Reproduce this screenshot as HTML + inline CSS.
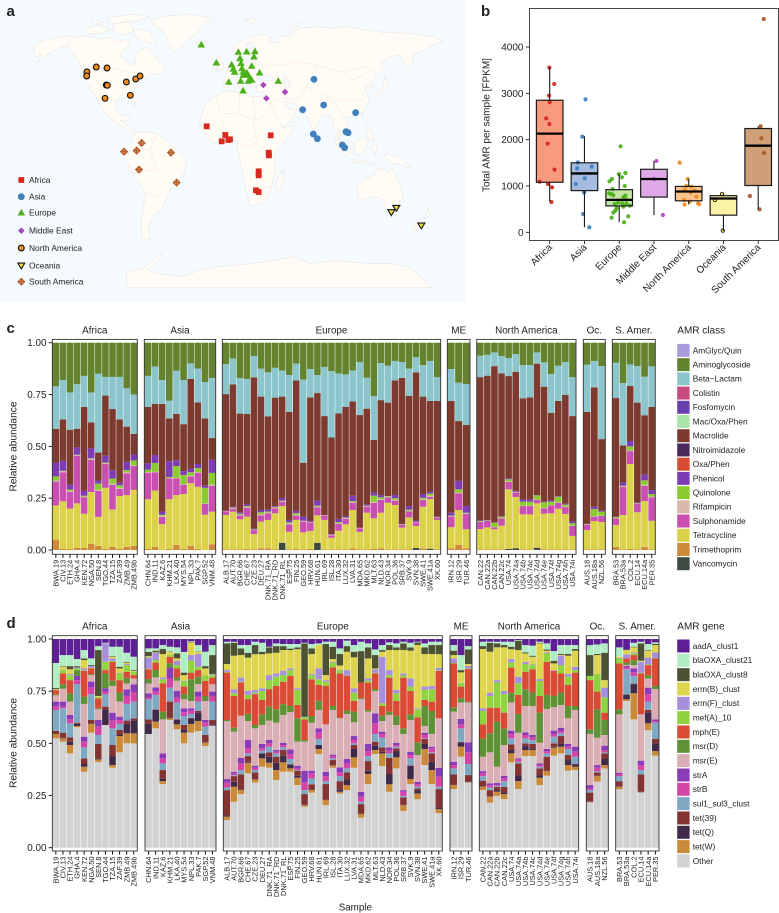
<!DOCTYPE html>
<html lang="en">
<head>
<meta charset="utf-8">
<title>Global AMR abundance figure</title>
<style>
html,body{margin:0;padding:0;background:#fff;width:779px;height:913px;overflow:hidden}
svg{display:block;font-family:"Liberation Sans",sans-serif}
text{fill:#222}
.land{fill:#fffcf5;stroke:#e2dfda;stroke-width:1.4}
.lake{fill:#f5fafe;stroke:#e2dfda;stroke-width:1.2}
.border{fill:none;stroke:#e6e3de;stroke-width:1.3}
</style>
</head>
<body>
<svg id="fig" xmlns="http://www.w3.org/2000/svg" width="779" height="913" viewBox="0 0 779 913">
<rect x="0" y="0" width="465" height="302.5" fill="#f5fafe"/>
<g transform="scale(0.33333)">
<path class="land" d="M100,145 L125,122 L160,115 L195,108 L230,112 L262,108 L300,118 L330,112 L352,128 L372,118 L395,130 L370,150 L360,165 L372,180 L398,195 L408,190 L402,168 L425,150 L440,140 L465,165 L478,185 L498,208 L478,222 L450,222 L432,238 L420,243 L408,260 L395,280 L408,322 L400,318 L388,290 L360,293 L345,305 L348,330 L368,350 L385,342 L392,345 L382,362 L362,362 L385,378 L398,390 L418,398 L405,402 L385,392 L350,370 L322,345 L300,315 L285,285 L268,262 L252,230 L240,190 L222,165 L205,142 L185,138 L150,160 L110,188 L125,165 L105,170 Z"/>
<path class="land" d="M255,85 L300,75 L330,90 L300,100 L260,100Z M340,75 L390,60 L400,95 L365,105 L340,95Z M400,85 L450,95 L470,130 L430,125 L405,110Z M320,55 L400,42 L450,50 L400,65 L340,70Z M275,60 L310,65 L285,75Z M730,60 L770,55 L760,72Z M870,80 L900,62 L895,75 L875,90Z"/>
<path class="land" d="M450,60 L500,48 L570,42 L640,55 L610,75 L590,100 L560,125 L525,158 L505,130 L495,100 L470,80Z"/>
<path class="land" d="M590,128 L605,122 L625,130 L612,143 L595,140Z M658,165 L668,190 L672,208 L650,212 L660,195 L650,178Z M640,188 L652,190 L650,205 L636,205Z"/>
<path class="land" d="M672,270 L672,240 L682,222 L680,210 L698,205 L702,190 L715,183 L712,172 L722,172 L722,185 L750,180 L768,165 L745,160 L748,145 L770,140 L745,125 L735,150 L730,170 L712,165 L695,150 L705,135 L745,112 L790,102 L815,112 L800,125 L835,128 L835,110 L870,105 L900,85 L950,80 L1000,85 L1040,78 L1090,90 L1160,98 L1230,100 L1300,110 L1330,125 L1295,135 L1265,155 L1245,160 L1235,190 L1220,205 L1200,165 L1175,170 L1140,190 L1155,205 L1130,225 L1110,250 L1125,265 L1100,255 L1095,270 L1110,300 L1090,335 L1055,350 L1035,355 L1045,385 L1040,405 L1022,405 L1015,385 L1020,425 L1042,455 L1025,440 L1003,380 L990,345 L965,345 L940,395 L925,355 L905,335 L880,310 L855,305 L860,325 L890,330 L875,360 L835,392 L810,315 L800,295 L790,275 L770,275 L770,255 L790,240 L775,232 L760,258 L742,258 L722,225 L708,222 L735,270 L715,262 L700,232 L692,234 L690,250 L680,272 Z"/>
<path class="lake" d="M775,232 L790,220 L815,228 L825,240 L795,243 Z"/>
<path class="lake" d="M852,225 L865,235 L870,265 L855,260Z"/>
<path class="land" d="M640,290 L672,276 L720,275 L750,288 L790,290 L805,300 L830,350 L850,385 L885,375 L870,405 L835,445 L822,470 L826,510 L812,570 L790,608 L750,618 L738,570 L722,495 L712,440 L712,422 L670,420 L640,428 L610,400 L598,365 L618,310 Z M848,510 L852,535 L838,578 L828,568 L832,535Z"/>
<path class="land" d="M410,398 L435,395 L470,400 L500,420 L525,445 L560,478 L552,520 L520,555 L505,580 L490,620 L462,645 L445,685 L450,720 L425,712 L425,650 L437,580 L400,520 L375,475 L392,450 L392,420 Z"/>
<path class="land" d="M1155,225 L1165,255 L1150,275 L1125,292 L1128,280 L1150,262 Z M1000,410 L1025,430 L1050,462 L1040,468 L1010,435Z M1060,430 L1090,410 L1105,425 L1090,465 L1065,460Z M1055,478 L1120,488 L1120,494 L1055,486Z M1115,440 L1135,430 L1125,465Z M1150,462 L1195,470 L1235,505 L1200,495 L1170,490Z M1100,370 L1112,390 L1125,425 L1105,415 L1098,390Z M950,405 L958,420 L950,425Z M1088,335 L1092,350 L1083,350Z"/>
<path class="land" d="M1068,560 L1095,535 L1125,525 L1130,505 L1160,510 L1165,520 L1178,505 L1205,565 L1208,590 L1190,625 L1165,632 L1150,600 L1125,590 L1078,602 Z M1168,640 L1185,642 L1178,655Z"/>
<path class="land" d="M1285,625 L1290,645 L1270,660Z M1260,660 L1270,665 L1245,695 L1235,690Z"/>
<path class="land" d="M380,815 L430,805 L465,775 L490,755 L470,785 L440,812 L480,822 L545,830 L600,810 L650,800 L720,795 L800,785 L880,770 L930,790 L1010,782 L1100,790 L1170,790 L1225,800 L1260,830 L1295,862 L380,862Z"/>
<path class="border" d="M205,110 L205,142 M248,205 L345,205 L370,215 L410,218 L432,232 M272,262 L310,270 L345,305 M470,400 L450,450 L410,445 M450,450 L470,510 L500,540 M400,520 L450,510 L470,510 M437,580 L480,590 M650,290 L660,340 L640,380 M720,275 L715,340 L760,360 L810,340 M760,290 L765,360 M670,340 L715,340 M660,420 L670,360 M712,440 L770,430 L820,470 M770,430 L760,360 M738,520 L800,510 M745,570 L812,560 M770,225 L800,195 L850,195 L880,185 L950,195 L1020,215 L1100,200 L1130,225 M950,195 L920,260 L905,290 L880,310 M850,240 L860,300 L905,290 M920,260 L1000,300 L1035,355 M1000,300 L1090,300 M1020,215 L1060,240 L1110,215 M740,180 L745,230 M700,205 L745,205 M720,185 L760,190 L790,200 M760,190 L770,225 M820,300 L870,290"/>
</g>
<g id="mapPoints"></g>
<g id="mapLegend"></g>
<g id="boxPanel"></g>
<g id="classPanel"></g>
<g id="genePanel"></g>
<text x="6.5" y="16" font-size="15" font-weight="bold" fill="#000">a</text>
<text x="481" y="16" font-size="15" font-weight="bold" fill="#000">b</text>
<text x="6.5" y="333" font-size="15" font-weight="bold" fill="#000">c</text>
<text x="6.5" y="628" font-size="15" font-weight="bold" fill="#000">d</text>
</svg>
<script>
/* ---------- panel a data (map coordinates: degrees-like lon / lat) ---------- */
const mapRegions = ["Africa","Asia","Europe","Middle East","North America","Oceania","South America"];
const lonAfrica = [-14.3,1.7,-1.4,4.3,5.7,40.6,38.9,39.1,30.3,30.3,30.3,28,30.3];
const latAfrica = [11.2,6,2.2,3,3.4,5.8,-4.6,-6.2,-15.8,-17,-18.2,-27.2,-28.2];
const lonAsia = [77.7,86,68,113.4,77.1,80.6,105.1,106.9,102,104];
const latAsia = [39.4,24,21.2,19.4,6.6,3.8,8,7.4,0,-1.6];
const lonEurope = [-18.9,-6,12.9,20,27.1,26.3,14.3,15.1,7.1,8.6,9.7,16,24.3,17.1,20,31.1,14.9,4.6,21.4,24.3,22.9,47.1,16.9,18.6,17.1,21.4];
const latEurope = [60.2,49.4,55.8,56,56.2,53,52,49,48.2,45.6,43.8,46,47.4,44,43.4,43.4,38.4,37.8,38.4,39,40,38.4,32.6,42,42,42];
const lonMiddleEast = [34.3,52.9,36.9];
const latMiddleEast = [36,31.8,28];
const lonNorthAmerica = [-116.9,-117.1,-108.9,-99.7,-100.3,-99.4,-83.1,-75.1,-71.4,-101.4,-79.7];
const latNorthAmerica = [43.8,41.4,46.8,46.2,36,35.8,37.8,39.6,41.4,28,29.8];
const lonOceania = [148.3,144,169.7];
const latOceania = [-37.8,-40.4,-48.4];
const lonSouthAmerica = [-70,-85.1,-74.3,-44.9,-72.3,-40];
const latSouthAmerica = [1.2,-4,-3.4,-4.6,-14.8,-22.6];

/* ---------- panel b data (FPKM) ---------- */
const boxCategories = ["Africa","Asia","Europe","Middle East","North America","Oceania","South America"];
const boxLow = [660,110,220,370,600,30,490];
const boxQ1 = [1080,900,570,760,680,370,1010];
const boxMedian = [2130,1270,700,1150,880,730,1870];
const boxQ3 = [2850,1500,920,1360,990,790,2240];
const boxHigh = [3560,2070,1260,1540,1150,830,2290];
const boxTicks = [0,1000,2000,3000,4000];
const fpkmAfrica = [3554,3200,2950,2806,2460,2338,1914,1353,1094,1043,971,655];
const jitterAfrica = [-.01,.13,-.02,0,-.1,-.01,-.06,.14,-.29,-.05,.07,.05];
const fpkmAsia = [2870,2065,1510,1381,1417,1165,1043,856,396,108];
const jitterAsia = [.03,-.06,-.19,-.21,.21,.01,-.25,-.01,-.04,.14];
const fpkmEurope = [1856,1280,1259,1187,1151,1100,1000,935,842,827,800,791,755,698,640,626,612,575,518,468,424,345,317,216,612,554];
const jitterEurope = [.04,.18,-.01,.08,-.21,-.28,.16,-.19,-.29,-.23,-.17,.18,.12,.21,-.03,.09,-.13,.31,-.08,-.11,-.17,.26,-.22,.14,.21,.12];
const fpkmMiddleEast = [1540,374,1151];
const jitterMiddleEast = [.07,.26,0];
const fpkmNorthAmerica = [1504,1151,1000,986,914,900,856,770,698,662,597,626,604];
const jitterNorthAmerica = [-.26,-.03,-.07,.08,-.12,.17,.06,.22,-.13,.03,-.12,.27,.3];
const fpkmOceania = [827,698,36];
const jitterOceania = [-.04,-.24,-.02];
const fpkmSouthAmerica = [4604,2288,2029,1712,784,496];
const jitterSouthAmerica = [.16,.07,.09,.17,-.24,.04];

/* ---------- panels c/d shared categories ---------- */
const samplesAfrica = ["BWA.19","CIV.13","ETH.24","GHA.4","KEN.72","NGA.50","SEN.8","TGO.44","TZA.15","ZAF.39","ZMB.49","ZMB.49b"];
const samplesAsia = ["CHN.64","IND.11","KAZ.6","KHM.21","LKA.40","MYS.54","NPL.33","PAK.7","SGP.52","VNM.48"];
const samplesEurope = ["ALB.17","AUT.70","BGR.66","CHE.67","CZE.23","DEU.27","DNK.71_RA","DNK.71_RD","DNK.71_RL","ESP.75","FIN.25","GEO.59","HRV.68","HUN.61","IRL.69","ISL.28","ITA.30","LUX.32","LVA.31","MDA.65","MKD.62","MLT.63","NLD.43","NOR.34","POL.36","SRB.37","SVK.9","SVN.38","SWE.41","SWE.41a","XK.60"];
const samplesME = ["IRN.12","ISR.29","TUR.46"];
const samplesNA = ["CAN.22","CAN.22a","CAN.22b","CAN.22c","USA.74","USA.74a","USA.74b","USA.74c","USA.74d","USA.74e","USA.74f","USA.74g","USA.74h","USA.74i"];
const samplesOc = ["AUS.18","AUS.18a","NZL.56"];
const samplesSA = ["BRA.53","BRA.53a","COL.2","ECU.14","ECU.14a","PER.35"];
const facetTitles = ["Africa","Asia","Europe","ME","North America","Oc.","S. Amer."];
const yTicks = ["0.00","0.25","0.50","0.75","1.00"];

/* ---------- panel c: upper edge of each stacked class, per mille, samples in facet order ---------- */
const classLegend = ["AmGlyc/Quin","Aminoglycoside","Beta\u2212Lactam","Colistin","Fosfomycin","Mac/Oxa/Phen","Macrolide","Nitroimidazole","Oxa/Phen","Phenicol","Quinolone","Rifampicin","Sulphonamide","Tetracycline","Trimethoprim","Vancomycin"];
const topVancomycin = [0,0,0,0,0,0,0,0,0,0,0,0, 0,0,0,0,0,0,0,0,0,0,
 0,0,0,0,0,0,0,0,35,0,0,0,0,35,0,0,0,0,0,0,0,0,0,0,0,0,0,10,0,6,0,
 0,0,0, 0,0,0,0,5,8,0,0,10,0,0,0,0,0, 0,0,0, 0,0,0,0,0,0];
const topTrimethoprim = [50,5,5,10,10,30,20,5,15,5,15,20, 5,15,0,5,25,5,20,5,0,28,
 3,3,3,5,3,8,8,3,35,3,5,3,5,35,3,3,3,3,8,3,3,6,8,3,3,3,3,10,8,8,3,
 8,25,8, 3,3,3,3,6,10,3,3,12,3,3,3,3,3, 3,3,3, 15,3,5,3,15,3];
const topTetracycline = [215,235,200,225,175,280,160,300,195,260,265,290, 245,287,125,245,265,270,322,305,170,185,
 169,185,148,161,77,137,145,177,212,88,145,85,92,167,145,59,93,124,193,87,180,153,180,228,217,108,157,116,209,246,145,
 110,193,100, 101,109,100,117,293,256,172,172,225,175,177,199,174,68, 96,140,135, 121,169,415,182,236,141];
const topSulphonamide = [330,375,280,455,255,435,285,415,315,295,370,405, 373,375,160,345,345,315,355,373,222,310,
 186,199,166,204,96,167,177,201,233,124,166,137,133,206,166,71,127,151,228,104,209,228,241,254,238,121,186,133,241,257,157,
 161,273,174, 135,140,109,153,328,277,212,212,241,201,215,228,207,116, 121,161,164, 153,305,477,222,310,254];
const topRifampicin = [335,380,285,458,258,440,290,420,320,300,375,410, 376,378,165,348,348,318,358,376,225,315,
 188,203,170,208,98,172,181,205,236,128,170,140,135,210,168,73,130,154,232,106,212,232,245,257,242,123,190,135,245,262,159,
 164,277,177, 137,141,111,155,331,279,214,214,243,203,217,230,209,118, 123,163,166, 155,307,480,224,315,258];
const topQuinolone = [355,382,292,460,262,442,320,422,345,312,385,432, 388,420,170,352,405,362,375,395,300,372,
 188,205,175,212,99,182,186,208,238,134,178,141,136,214,168,74,135,157,236,107,214,262,254,260,250,124,195,136,252,272,160,
 166,293,180, 140,143,132,161,341,281,233,233,264,230,233,257,219,129, 125,198,185, 159,310,500,225,336,270];
const topPhenicol = [420,430,315,495,285,490,335,455,385,325,425,460, 418,458,185,428,433,380,393,415,312,435,
 189,209,182,220,103,193,196,212,251,145,189,161,140,238,169,76,150,164,262,108,220,277,265,260,265,125,212,142,270,281,161,
 180,334,212, 143,145,133,162,346,285,244,244,265,233,238,260,223,137, 127,209,190, 161,326,526,228,365,289];
const topMacrolide = [585,630,580,585,690,615,470,745,680,630,595,560, 690,705,705,635,657,607,825,712,635,540,
 752,799,658,656,833,740,645,735,740,667,818,421,736,757,646,543,659,691,717,651,682,531,723,711,818,830,744,857,740,719,719,
 719,622,603, 834,841,887,852,839,860,732,736,899,788,662,719,749,646, 666,785,535, 733,505,791,711,650,690];
const topBetaLactam = [790,820,760,800,840,760,850,835,835,835,780,750, 840,885,820,720,865,820,900,875,810,830,
 897,924,830,825,936,875,857,879,866,844,899,822,873,844,883,863,852,847,866,907,831,743,902,889,912,907,875,931,892,912,834,
 873,807,801, 937,942,953,936,926,945,892,892,953,905,849,889,907,834, 894,912,887, 904,805,895,887,836,886];

/* ---------- panel d: one row per sample, upper edge of each gene layer (per mille), bottom to top:
   Other, tet(W), tet(Q), tet(39), sul1_sul3, strB, strA, msr(E), msr(D), mph(E), mef(A), erm(F), erm(B), blaOXA_8, blaOXA_21 ---------- */
const geneLegend = ["aadA_clust1","blaOXA_clust21","blaOXA_clust8","erm(B)_clust","erm(F)_clust","mef(A)_10","mph(E)","msr(D)","msr(E)","strA","strB","sul1_sul3_clust","tet(39)","tet(Q)","tet(W)","Other"];
const geneAfrica = [
[524,545,547,560,660,678,700,730,735,755,757,758,760,765,885],
[508,524,526,551,668,675,700,762,783,835,851,853,867,870,923],
[452,492,508,529,596,615,636,700,740,803,827,832,855,870,923],
[577,583,593,599,784,803,823,823,851,851,859,864,864,870,904],
[364,388,401,428,481,508,532,689,724,847,850,859,899,907,947],
[551,593,596,612,736,768,796,827,832,859,862,870,870,875,907],
[411,423,428,497,540,580,612,663,668,716,722,723,727,947,966],
[588,588,663,676,735,748,764,764,835,851,891,979,979,979,982],
[383,396,439,492,572,609,647,775,800,891,895,907,915,918,963],
[457,535,540,564,593,612,628,700,743,803,835,838,859,867,963],
[500,548,593,609,689,727,759,787,815,843,875,880,887,891,934],
[500,548,609,620,700,744,783,811,811,827,843,843,847,851,915]];
const geneAsia = [
[545,545,593,615,711,720,740,787,808,855,857,912,918,938,955],
[572,604,660,662,732,748,768,816,851,887,899,934,936,944,955],
[305,319,331,372,404,428,452,615,652,788,807,816,928,952,971],
[612,620,622,700,767,811,863,863,883,915,923,923,939,941,963],
[567,591,612,615,695,720,751,800,816,859,875,896,907,931,960],
[500,551,567,588,631,649,668,711,736,772,800,802,827,839,938],
[551,593,620,622,641,657,668,703,807,839,896,923,984,986,989],
[559,607,647,655,700,724,748,784,819,851,867,928,939,941,971],
[487,503,505,540,580,599,612,703,727,800,827,827,859,870,939],
[585,585,588,612,700,727,748,783,783,815,827,831,832,923,971]];
const geneEurope = [
[133,149,155,276,288,311,329,607,612,839,842,851,880,979,987],
[220,292,316,343,348,356,364,556,575,727,740,759,920,982,987],
[257,276,278,351,372,404,431,633,633,792,795,815,923,955,971],
[356,407,412,439,452,476,516,607,641,712,732,752,911,934,971],
[312,327,329,361,372,383,393,572,588,736,743,756,927,971,987],
[388,428,452,452,465,476,497,588,639,708,751,764,927,939,982],
[383,407,436,457,484,500,516,609,676,760,803,827,931,960,963],
[324,372,407,436,452,460,468,599,664,775,819,835,934,966,979],
[364,409,441,468,481,492,503,636,688,795,827,848,947,966,976],
[364,380,399,400,425,449,471,650,679,823,851,859,947,954,976],
[300,335,345,369,372,380,393,508,620,684,756,764,951,960,976],
[196,204,206,257,276,313,369,508,516,615,625,627,627,979,982],
[264,276,278,304,332,356,369,599,631,807,827,832,928,955,976],
[449,473,492,492,521,551,572,660,704,780,807,859,971,971,979],
[204,228,230,305,319,343,364,591,591,775,795,803,827,976,987],
[383,393,395,420,428,439,446,660,679,864,887,891,904,963,987],
[260,268,280,319,343,361,385,620,622,835,851,853,873,928,955],
[276,300,327,361,380,404,425,641,657,823,825,851,939,966,992],
[383,433,473,492,500,516,535,601,652,704,743,764,912,939,971],
[144,161,163,209,220,244,268,711,716,792,792,792,792,942,987],
[305,353,369,415,439,463,497,652,660,791,800,811,907,960,979],
[449,468,489,508,545,596,644,751,760,835,838,855,859,923,950],
[391,452,460,481,527,545,556,607,633,679,692,915,939,947,971],
[268,304,353,431,452,468,481,636,652,815,827,851,947,971,984],
[380,433,463,476,484,492,503,588,633,703,740,756,947,960,979],
[176,204,206,241,248,268,276,545,572,815,825,835,947,979,987],
[305,329,393,395,428,444,460,612,639,751,772,811,944,960,982],
[232,260,276,284,292,305,316,444,505,625,663,668,971,984,987],
[396,473,497,521,524,540,551,583,679,708,756,772,928,960,979],
[305,372,411,452,457,476,484,545,655,700,759,775,928,971,987],
[165,185,193,281,292,340,383,620,620,847,850,862,927,971,987]];
const geneME = [
[281,300,302,351,380,396,412,652,673,883,885,907,923,944,971],
[436,484,505,507,572,591,617,696,716,772,788,790,840,851,923],
[312,314,316,348,401,457,505,696,700,856,859,871,880,950,966]];
const geneNA = [
[276,292,294,321,343,356,367,436,524,591,655,668,952,966,987],
[216,244,246,276,289,300,308,457,548,671,727,743,939,982,987],
[248,268,276,292,296,300,311,388,604,671,792,803,960,979,987],
[233,257,265,292,319,332,345,492,572,647,736,751,960,971,987],
[409,452,468,495,524,545,561,696,743,863,888,904,951,963,987],
[281,319,348,404,412,423,428,551,641,732,788,819,947,992,995],
[439,468,487,500,524,540,553,679,759,843,880,890,931,936,971],
[439,468,476,497,516,529,540,679,744,855,875,878,915,920,968],
[300,335,348,380,388,396,404,503,647,727,799,808,979,981,987],
[345,367,369,436,452,462,473,665,732,891,931,936,944,950,979],
[441,479,484,500,532,545,561,673,727,848,848,851,883,896,942],
[452,484,500,535,548,559,575,684,744,835,875,920,923,928,971],
[369,396,420,444,473,484,497,620,679,780,819,832,920,928,971],
[372,388,399,401,436,460,484,660,679,839,851,867,944,952,971]];
const geneOc = [
[217,220,222,264,276,284,300,545,567,803,823,823,823,923,971],
[316,343,345,361,367,383,396,527,663,748,832,832,923,928,974],
[380,396,425,452,457,468,489,540,612,647,720,767,803,934,979]];
const geneSA = [
[280,292,294,319,343,353,359,639,663,883,907,909,915,915,960],
[703,711,732,734,855,864,871,875,887,907,907,927,947,950,950],
[615,740,784,786,823,840,859,875,899,923,931,936,960,963,982],
[264,266,268,351,372,396,417,639,639,835,838,891,896,979,987],
[564,596,649,660,700,736,767,811,827,875,878,911,944,947,976],
[441,463,500,521,599,607,615,760,775,907,909,936,971,976,984]];

/* ---------- styles ---------- */
const svg = document.getElementById('fig');
const NS = 'http://www.w3.org/2000/svg';
function mk(tag, attrs, parent){
  const e = document.createElementNS(NS, tag);
  for(const k in attrs) e.setAttribute(k, attrs[k]);
  parent.appendChild(e);
  return e;
}
function kebab(s){return String(s).toLowerCase().replace(/[^a-z0-9]+/g,'-').replace(/^-|-$/g,'');}

/* ---------- panel a ---------- */
const mapX = lon => 223.33 + lon*1.1667;
const mapY = lat => 145 - lat*1.6667;
function marker(kind, x, y, parent){
  const g = mk('g',{transform:'translate('+x+','+y+')'},parent);
  if(kind===0) mk('rect',{x:-2.9,y:-2.9,width:5.8,height:5.8,fill:'#d9291f'},g);
  if(kind===1) mk('circle',{r:3.4,fill:'#3f80bd'},g);
  if(kind===2) mk('path',{d:'M0,-3.8 L3.8,2.8 L-3.8,2.8 Z',fill:'#4cb01a'},g);
  if(kind===3) mk('path',{d:'M0,-3.3 L3.3,0 L0,3.3 L-3.3,0 Z',fill:'#a845bd'},g);
  if(kind===4) mk('circle',{r:2.9,fill:'#f08a1c',stroke:'#111','stroke-width':1.1},g);
  if(kind===5) mk('path',{d:'M0,3.2 L3.5,-2.6 L-3.5,-2.6 Z',fill:'#ecdc3c',stroke:'#111','stroke-width':1.1},g);
  if(kind===6){
    mk('path',{d:'M0,-3.4 L3.4,0 L0,3.4 L-3.4,0 Z',fill:'#e9955a',stroke:'#a8562a','stroke-width':1},g);
    mk('path',{d:'M0,-3.4 L0,3.4 M-3.4,0 L3.4,0',fill:'none',stroke:'#a8562a','stroke-width':.8},g);
  }
  return g;
}
const mapLon = [lonAfrica,lonAsia,lonEurope,lonMiddleEast,lonNorthAmerica,lonOceania,lonSouthAmerica];
const mapLat = [latAfrica,latAsia,latEurope,latMiddleEast,latNorthAmerica,latOceania,latSouthAmerica];
const mapGroup = document.getElementById('mapPoints');
mapLon.forEach((lons,r)=>{
  lons.forEach((lon,i)=>{
    const m = marker(r, mapX(lon), mapY(mapLat[r][i]), mapGroup);
    
    
  });
});
const legendGroup = document.getElementById('mapLegend');
const legendRowY = [180,196.7,212.7,230.7,248,265.7,281.7];
mapRegions.forEach((name,r)=>{
  const m = marker(r, 21.3, legendRowY[r], legendGroup);
  
  
  const t = mk('text',{x:29,y:legendRowY[r]+3,'font-size':8.4,fill:'#333'},legendGroup);
  t.textContent = name;
  
  
});

/* ---------- panel b ---------- */
const bp = document.getElementById('boxPanel');
const boxY = v => 232.3 - v*0.04633;
const boxX = i => 549.7 + i*34.75;
const boxFills = ['#f89a7e','#a5bbe0','#c4e8a4','#dfa8e6','#fcc48e','#fdf3a6','#cfa077'];
const boxDots = ['#d4271f','#3f80bd','#4cb01a','#a845bd','#ee8a1c','#ecdc3c','#a8552a'];
const fpkmSeries = [fpkmAfrica,fpkmAsia,fpkmEurope,fpkmMiddleEast,fpkmNorthAmerica,fpkmOceania,fpkmSouthAmerica];
const jitterSeries = [jitterAfrica,jitterAsia,jitterEurope,jitterMiddleEast,jitterNorthAmerica,jitterOceania,jitterSouthAmerica];
const boxFrame = mk('rect',{x:529.5,y:8.5,width:249,height:232,fill:'#fff',stroke:'#333','stroke-width':.9},bp);


boxTicks.forEach(v=>{
  const tick = mk('line',{x1:525.8,x2:529.5,y1:boxY(v),y2:boxY(v),stroke:'#222','stroke-width':.9},bp);
  
  
  const t = mk('text',{x:523.5,y:boxY(v)+3.5,'font-size':10,'text-anchor':'end',fill:'#333'},bp);
  t.textContent = v;
  
  
});
boxCategories.forEach((name,i)=>{
  const cx = boxX(i), w = 13.3;
  const fill = mk('rect',{x:cx-w,y:boxY(boxQ3[i]),width:2*w,height:boxY(boxQ1[i])-boxY(boxQ3[i]),fill:boxFills[i]},bp);
  
  
  fpkmSeries[i].forEach((v,j)=>{
    const dot = mk('circle',{cx:cx+jitterSeries[i][j]*104/3,cy:boxY(v),r:i===5?1.7:2.1,fill:boxDots[i],'fill-opacity':.92},bp);
    if(i===5){ dot.setAttribute('stroke','#111'); dot.setAttribute('stroke-width','.8'); }
    
    
  });
  const wh = mk('path',{d:'M'+cx+','+boxY(boxHigh[i])+'V'+boxY(boxQ3[i])+'M'+cx+','+boxY(boxQ1[i])+'V'+boxY(boxLow[i]),stroke:'#1a1a1a','stroke-width':1.1,fill:'none'},bp);
  
  
  const out = mk('rect',{x:cx-w,y:boxY(boxQ3[i]),width:2*w,height:boxY(boxQ1[i])-boxY(boxQ3[i]),fill:'none',stroke:'#1a1a1a','stroke-width':1.2},bp);
  
  
  const med = mk('line',{x1:cx-w,x2:cx+w,y1:boxY(boxMedian[i]),y2:boxY(boxMedian[i]),stroke:'#000','stroke-width':2.3},bp);
  
  
  const tick = mk('line',{x1:cx,x2:cx,y1:240.5,y2:244,stroke:'#222','stroke-width':.9},bp);
  
  
  const t = mk('text',{x:0,y:0,'font-size':10,'text-anchor':'end',fill:'#333',transform:'translate('+(cx+3)+',248) rotate(-45)'},bp);
  t.textContent = name;
  
  
});
const by = mk('text',{x:0,y:0,'font-size':10,'text-anchor':'middle',fill:'#222',transform:'translate(489.5,125) rotate(-90)'},bp);
by.textContent = 'Total AMR per sample [FPKM]';



/* ---------- panels c / d ---------- */
const facetSamples = [samplesAfrica,samplesAsia,samplesEurope,samplesME,samplesNA,samplesOc,samplesSA];
const classColors = {"AmGlyc/Quin":'#a99bdc',"Aminoglycoside":'#64832f',"Beta\u2212Lactam":'#8cc6cc',"Colistin":'#c84b80',"Fosfomycin":'#6a3fae',"Mac/Oxa/Phen":'#a9e5a9',"Macrolide":'#7d3a2e',"Nitroimidazole":'#4a2a5e',"Oxa/Phen":'#d84c34',"Phenicol":'#7d3bb5',"Quinolone":'#8acb30',"Rifampicin":'#d9b8ac',"Sulphonamide":'#c94fb0',"Tetracycline":'#dcd24a',"Trimethoprim":'#cf8b3a',"Vancomycin":'#3f4a40'};
const geneColors = {"aadA_clust1":'#5e1f96',"blaOXA_clust21":'#b0ecc4',"blaOXA_clust8":'#4d5233',"erm(B)_clust":'#ded44e',"erm(F)_clust":'#a88fdc',"mef(A)_10":'#8fd43e',"mph(E)":'#d94b35',"msr(D)":'#5f9136',"msr(E)":'#d9aeb4',"strA":'#8a3cb8',"strB":'#d445a8',"sul1_sul3_clust":'#7fa9c2',"tet(39)":'#843333',"tet(Q)":'#3f2a4a',"tet(W)":'#c98a3a',"Other":'#d2d2d2'};
const classStackOrder = ["Vancomycin","Trimethoprim","Tetracycline","Sulphonamide","Rifampicin","Quinolone","Phenicol","Macrolide","Beta\u2212Lactam"];
const classTops = [topVancomycin,topTrimethoprim,topTetracycline,topSulphonamide,topRifampicin,topQuinolone,topPhenicol,topMacrolide,topBetaLactam];
const geneStackOrder = ["Other","tet(W)","tet(Q)","tet(39)","sul1_sul3_clust","strB","strA","msr(E)","msr(D)","mph(E)","mef(A)_10","erm(F)_clust","erm(B)_clust","blaOXA_clust8","blaOXA_clust21"];
const geneMatrix = [].concat(geneAfrica,geneAsia,geneEurope,geneME,geneNA,geneOc,geneSA);

function drawPanel(cfg){
  const root = cfg.root;
  const yScale = v => cfg.y0 - v/1000*(cfg.y0-cfg.y1);
  let sampleIdx = 0;
  const left = cfg.bounds[0][0];
  facetSamples.forEach((samples,f)=>{
    const b = cfg.bounds[f], step = (b[1]-b[0])/samples.length;
    const title = mk('text',{x:(b[0]+b[1])/2,y:cfg.titleY,'font-size':9.9,'text-anchor':'middle',fill:'#222'},root);
    title.textContent = facetTitles[f];
    
    
    samples.forEach((name,i)=>{
      const x = b[0]+i*step, bw = step*.93, bx = x+step*.035;
      let prev = 0;
      cfg.order.forEach((layer,k)=>{
        const top = cfg.topOf(k,sampleIdx);
        const h = Math.max(0,yScale(prev)-yScale(top));
        if(h>0){
          const r = mk('rect',{x:bx,y:yScale(top),width:bw,height:h,fill:cfg.colors[layer]},root);
          
          
        }
        prev = Math.max(prev,top);
      });
      const cap = mk('rect',{x:bx,y:yScale(1000),width:bw,height:yScale(prev)-yScale(1000),fill:cfg.colors[cfg.capLayer]},root);
      
      
      const tick = mk('line',{x1:x+step/2,x2:x+step/2,y1:cfg.bottom,y2:cfg.bottom+3.6,stroke:'#111','stroke-width':1},root);
      
      
      const t = mk('text',{x:0,y:0,'font-size':7.4,'text-anchor':'end',fill:'#444',transform:'translate('+(x+step/2+2.6)+','+(cfg.bottom+5.5)+') rotate(-90)'},root);
      t.textContent = name;
      
      
      sampleIdx++;
    });
    const frame = mk('rect',{x:b[0],y:cfg.top,width:b[1]-b[0],height:cfg.bottom-cfg.top,fill:'none',stroke:'#333','stroke-width':.9},root);
    
    
  });
  yTicks.forEach(lbl=>{
    const v = parseFloat(lbl)*1000;
    const tick = mk('line',{x1:left-3.6,x2:left,y1:yScale(v),y2:yScale(v),stroke:'#111','stroke-width':.9},root);
    
    
    const t = mk('text',{x:left-5.8,y:yScale(v)+3.5,'font-size':9.9,'text-anchor':'end',fill:'#222'},root);
    t.textContent = lbl;
    
    
  });
  const yt = mk('text',{x:0,y:0,'font-size':10.2,'text-anchor':'middle',fill:'#222',transform:'translate('+cfg.yTitleX+','+cfg.yTitleY+') rotate(-90)'},root);
  yt.textContent = 'Relative abundance';
  
  
  const lt = mk('text',{x:677.3,y:cfg.titleY,'font-size':10,fill:'#222'},root);
  lt.textContent = cfg.legendTitle;
  
  
  cfg.legend.forEach((name,i)=>{
    const cy = cfg.legendY + i*cfg.legendStep;
    const s = mk('rect',{x:677.2,y:cy-6.5,width:12.4,height:13,fill:cfg.colors[name]},root);
    
    
    const t = mk('text',{x:692.7,y:cy+2.9,'font-size':8.3,fill:'#333'},root);
    t.textContent = name;
    
    
  });
}
drawPanel({
  root:document.getElementById('classPanel'),
  bounds:[[52.3,137.3],[144.3,215.7],[222.3,440.7],[447.3,470],[476.7,576],[583.3,605.3],[612.3,655.3]],
  y0:550,y1:342.7,top:339.4,bottom:554.3,titleY:333.5,yTitleX:16.5,yTitleY:446.5,
  order:classStackOrder,colors:classColors,capLayer:"Aminoglycoside",
  topOf:(k,s)=>classTops[k][s],
  legendTitle:'AMR class',legend:classLegend,legendY:350.4,legendStep:14.22
});
drawPanel({
  root:document.getElementById('genePanel'),
  bounds:[[52.3,137.3],[145,216],[223.3,442.3],[450,472],[479.3,578.7],[586.3,608.3],[615.7,659]],
  y0:847.7,y1:639,top:635.7,bottom:851,titleY:629.5,yTitleX:16.5,yTitleY:743,
  order:geneStackOrder,colors:geneColors,capLayer:"aadA_clust1",
  topOf:(k,s)=>geneMatrix[s][k],
  legendTitle:'AMR gene',legend:geneLegend,legendY:646,legendStep:14.33
});
const xt = mk('text',{x:355.3,y:910.5,'font-size':9.8,'text-anchor':'middle',fill:'#222'},document.getElementById('genePanel'));
xt.textContent = 'Sample';


</script>
</body>
</html>
